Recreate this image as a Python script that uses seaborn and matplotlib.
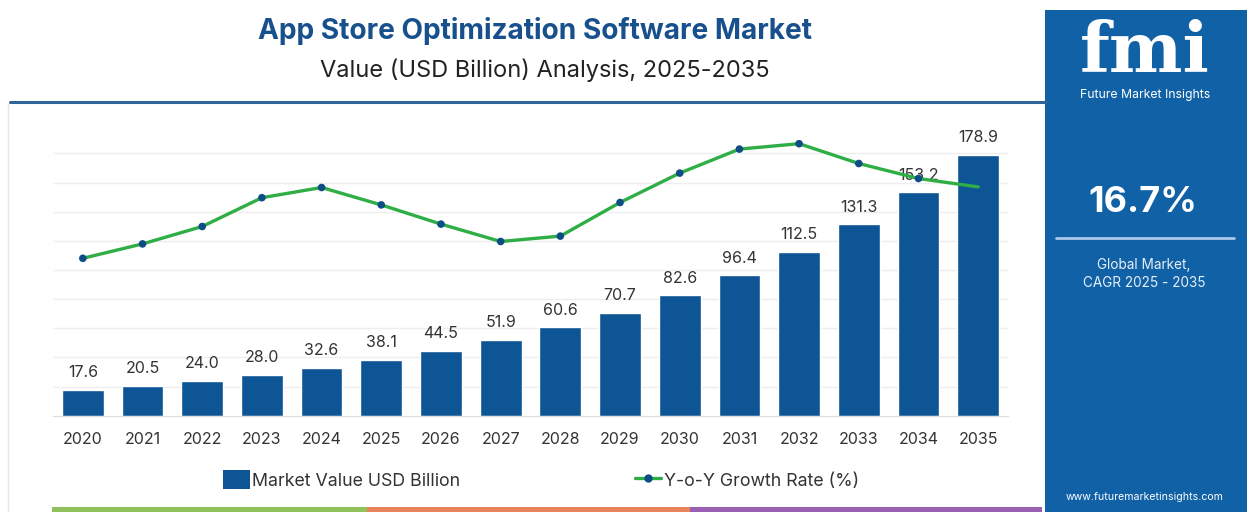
import matplotlib
matplotlib.use("Agg")
import matplotlib.pyplot as plt
from matplotlib.patches import Rectangle, Patch
from matplotlib.lines import Line2D
import seaborn as sns
import pandas as pd

# ---- data ----
years = ["2020", "2021", "2022", "2023", "2024", "2025", "2026", "2027",
         "2028", "2029", "2030", "2031", "2032", "2033", "2034", "2035"]
market_value = [17.6, 20.5, 24.0, 28.0, 32.6, 38.1, 44.5, 51.9,
                60.6, 70.7, 82.6, 96.4, 112.5, 131.3, 153.2, 178.9]
yoy_growth = [15.00, 15.24, 15.53, 16.01, 16.18, 15.89, 15.57, 15.28,
              15.37, 15.93, 16.42, 16.82, 16.91, 16.58, 16.33, 16.19]
cagr_text = "16.7%"

BAR = "#0d5595"
LINE = "#2fae45"
DOT = "#0e4c86"
TITLE = "#17508c"
TXT = "#333333"
PANEL = "#1061a6"

sns.set_style("white")
plt.rcParams["font.family"] = ["Inter", "DejaVu Sans"]

W, H = 1256, 512
fig = plt.figure(figsize=(W / 100, H / 100), dpi=100)
fig.patch.set_facecolor("white")

def fx(px):
    return px / W

def fy(py):
    return 1 - py / H

df = pd.DataFrame({"year": years, "value": market_value, "growth": yoy_growth})
df["pos"] = range(len(df))

ax = fig.add_axes([fx(53), 96.3 / H, fx(1008) - fx(53), (415.7 - 140) / H])
sns.barplot(data=df, x="year", y="value", color=BAR, width=0.70,
            saturation=1, ax=ax, zorder=2)
ax.set_xlim(-0.5, len(years) - 0.5)
ax.set_ylim(0, (415.7 - 140) / 1.457)
ax.set_yticks(range(20, 181, 20))
ax.yaxis.grid(True, color="#eeeeee", lw=1, zorder=0)
ax.set_axisbelow(True)
ax.set_yticklabels([])
ax.tick_params(axis="y", length=0)
for s in ["left", "right", "top"]:
    ax.spines[s].set_visible(False)
ax.spines["bottom"].set_color("#dddddd")
ax.set_xlabel("")
ax.set_ylabel("")
ax.tick_params(axis="x", length=0, pad=12, labelsize=11.5, labelcolor=TXT)
ax.set_xticks([i + 0.5 for i in range(-1, len(years))], minor=True)
ax.tick_params(axis="x", which="minor", length=5, color="#dddddd")

ax.bar_label(ax.containers[0], labels=[f"{v:.1f}" for v in market_value],
             padding=7, fontsize=11.5, color=TXT)

# growth-rate line on a hidden secondary scale
ax2 = ax.twinx()
lo = 15.0 - (415.7 - 258.3) / 60
hi = 15.0 + (258.3 - 140) / 60
ax2.set_ylim(lo, hi)
sns.lineplot(data=df, x="pos", y="growth", color=LINE, lw=2.4, ax=ax2,
             zorder=3)
sns.scatterplot(data=df.iloc[:-1], x="pos", y="growth", color=DOT, s=30,
                edgecolor="none", ax=ax2, zorder=4)
ax2.set_axis_off()
ax.set_xlim(-0.5, len(years) - 0.5)

# legend
handles = [Patch(facecolor=BAR, edgecolor="none"),
           Line2D([0], [0], color=LINE, lw=2.4, marker="o", markersize=5,
                  markerfacecolor=DOT, markeredgecolor=DOT)]
fig.legend(handles, ["Market Value USD Billion", "Y-o-Y Growth Rate (%)"],
           loc="center", bbox_to_anchor=(fx(541), fy(480)), ncol=2,
           frameon=False, fontsize=12.8, handlelength=1.5, handleheight=1.25,
           handletextpad=0.15, columnspacing=9.8,
           labelcolor=TXT)

# titles and header rule
fig.text(fx(535), fy(31), "App Store Optimization Software Market",
         ha="center", va="center", fontsize=20.2, weight="bold", color=TITLE)
fig.text(fx(545), fy(70), "Value (USD Billion) Analysis, 2025-2035",
         ha="center", va="center", fontsize=17, color="#222222")
fig.add_artist(Line2D([fx(10), fx(1046)], [fy(102), fy(102)],
                      color="#2f6496", lw=2.2))
fig.add_artist(Line2D([fx(8), fx(8)], [fy(104), fy(512)],
                      color="#e6e6e6", lw=1))

# bottom colour strip
for x0, x1, c in [(52, 367, "#8fc25a"), (367, 690, "#e9835c"),
                  (690, 1042, "#9a60b4")]:
    fig.add_artist(Rectangle((fx(x0), 0), fx(x1) - fx(x0), 5 / H,
                             facecolor=c, edgecolor="none"))

# side panel
fig.add_artist(Rectangle((fx(1045), 0), fx(1247) - fx(1045), 502 / H,
                         facecolor=PANEL, edgecolor="none"))
fig.text(fx(1145), fy(72), "fmi", ha="center", va="baseline",
         fontsize=50, weight="bold", family="DejaVu Serif", color="white")
for yy in range(24, 74, 5):
    fig.add_artist(Line2D([fx(1072), fx(1218)], [fy(yy), fy(yy)],
                          color=PANEL, lw=0.9))
fig.text(fx(1145), fy(95), "Future Market Insights", ha="center",
         va="center", fontsize=8.8, color="white")
fig.text(fx(1143), fy(202), cagr_text, ha="center", va="center",
         fontsize=26, weight="bold", color="white")
fig.add_artist(Line2D([fx(1056), fx(1234)], [fy(238), fy(238)],
                      color="#a9c9e8", lw=2))
fig.text(fx(1144), fy(265), "Global Market,", ha="center", va="center",
         fontsize=9.8, color="#e8f0f8")
fig.text(fx(1144), fy(283), "CAGR 2025 - 2035", ha="center", va="center",
         fontsize=9.8, color="#e8f0f8")
fig.text(fx(1145), fy(497), "www.futuremarketinsights.com", ha="center",
         va="center", fontsize=7.6, color="white")

fig.savefig("out.png", dpi=100, facecolor="white")
